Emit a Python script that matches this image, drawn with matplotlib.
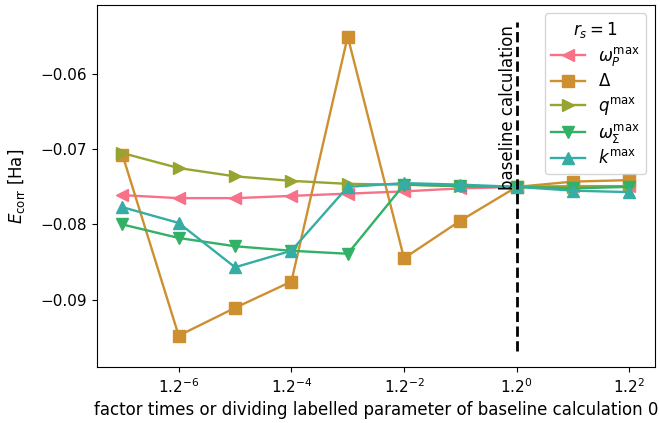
import numpy as np
import matplotlib
matplotlib.use("Agg")
import matplotlib.pyplot as plt

# exponents of the factor 1.2 applied to the baseline parameter
exponents = [-7, -6, -5, -4, -3, -2, -1, 0, 1, 2]

# correlation energies [Ha]
omega_p = [-0.0761, -0.0765, -0.0765, -0.0762, -0.0759, -0.0756, -0.0752, -0.0750, -0.0749, -0.0749]
delta = [-0.0707, -0.0948, -0.0911, -0.0876, -0.0550, -0.0845, -0.0795, -0.0750, -0.0743, -0.0741]
q_max = [-0.0705, -0.0725, -0.0736, -0.0742, -0.0746, -0.0747, -0.0749, -0.0750, -0.0750, -0.0749]
omega_sigma = [-0.0800, -0.0818, -0.0829, -0.0835, -0.0839, -0.0747, -0.0749, -0.0750, -0.0752, -0.0750]
k_max = [-0.0777, -0.0798, -0.0857, -0.0835, -0.0750, -0.0745, -0.0747, -0.0750, -0.0755, -0.0757]

labels = [r"$\omega_P^{\mathrm{max}}$", r"$\Delta$", r"$q^{\mathrm{max}}$",
          r"$\omega_\Sigma^{\mathrm{max}}$", r"$k^{\mathrm{max}}$"]
markers = ["<", "s", ">", "v", "^"]
series = [omega_p, delta, q_max, omega_sigma, k_max]

# husl-like colours
colors = ["#f77189", "#ce8f31", "#97a431", "#32b166", "#36ada4"]
plt.rcParams["font.size"] = 11

fig, ax = plt.subplots(figsize=(6.6, 4.23), dpi=100)
fig.subplots_adjust(left=0.147, right=0.992, bottom=0.132, top=0.988)

x = 1.2 ** np.array(exponents, dtype=float)
for vals, lab, m, c in zip(series, labels, markers, colors):
    ax.plot(x, vals, marker=m, color=c, label=lab, markersize=8, linewidth=1.7)

ax.set_xscale("log", base=1.2)
ax.set_xticks(1.2 ** np.array([-6, -4, -2, 0, 2], dtype=float))
ax.minorticks_off()

# baseline marker
ymin = min(delta) - 0.002
ymax = max(delta) + 0.002
ax.vlines(1.0, ymin, ymax, colors="k", linestyles="--", linewidth=2)
ax.text(1.0, -0.0754, "baseline calculation", rotation=90, ha="right", va="bottom", fontsize=12)

ax.set_xlabel("factor times or dividing labelled parameter of baseline calculation 0", fontsize=12)
ax.set_ylabel(r"$E_{\mathrm{corr}}$ [Ha]", fontsize=12, labelpad=10)
ax.legend(title=r"$r_s = 1$", loc="upper right", fontsize=12, title_fontsize=12,
          labelspacing=0.28)

fig.savefig("out.png", dpi=100)
